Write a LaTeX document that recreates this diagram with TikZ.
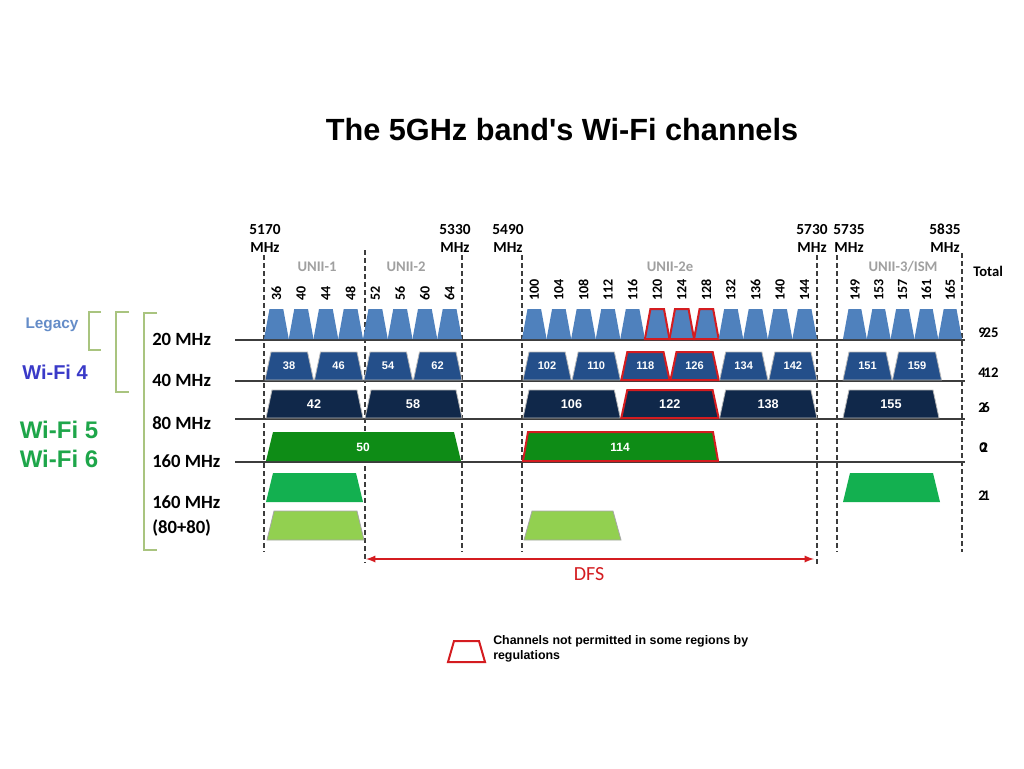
\documentclass[tikz,border=0pt]{standalone}
\usepackage{fontspec}
\setmainfont{Liberation Sans}
\newfontfamily\calib{Carlito}
\usepackage{tikz}
\usetikzlibrary{arrows}

\definecolor{ch20}{RGB}{79,129,189}
\definecolor{ch40}{RGB}{36,79,138}
\definecolor{ch80}{RGB}{16,40,74}
\definecolor{ch160}{RGB}{14,140,22}
\definecolor{chA}{RGB}{19,176,80}
\definecolor{chB}{RGB}{146,208,80}
\definecolor{regred}{RGB}{212,28,32}
\definecolor{gridgray}{RGB}{60,60,60}
\definecolor{uniigray}{RGB}{160,160,160}
\definecolor{brk}{RGB}{169,196,127}
\definecolor{legacyblue}{RGB}{100,140,200}
\definecolor{wifiblue}{RGB}{58,58,200}
\definecolor{wifigreen}{RGB}{30,166,74}

% one channel: [style]{left}{right}{top}{bottom}{inset}
\newcommand{\chan}[6][]{\path[#1] (#2,#5) -- (#2+#6,#4) -- (#3-#6,#4) -- (#3,#5) -- cycle;}

\tikzset{
  b20/.style={fill=ch20},
  b40/.style={fill=ch40, draw=gray!55, line width=0.6pt},
  b80/.style={fill=ch80, draw=gray!55, line width=0.6pt},
  b160/.style={fill=ch160},
  bA/.style={fill=chA},
  bB/.style={fill=chB, draw=gray!70, line width=0.6pt},
  restricted/.style={draw=regred, line width=1.5pt},
  r20/.style={b20,restricted},
  r40/.style={b40,restricted},
  r80/.style={b80,restricted},
  r160/.style={b160,restricted},
  chnum/.style={font=\calib\bfseries\fontsize{10.5}{12}\selectfont, rotate=90, anchor=west, inner sep=0pt},
  lab40/.style={text=white, font=\bfseries\fontsize{8.3}{10}\selectfont, inner sep=0pt},
  lab80/.style={text=white, font=\bfseries\fontsize{9.5}{11}\selectfont, inner sep=0pt},
  lab160/.style={text=white, font=\bfseries\fontsize{9}{11}\selectfont, inner sep=0pt},
  freq/.style={font=\calib\bfseries\fontsize{11.5}{13.5}\selectfont, align=center, inner sep=0pt},
  unii/.style={font=\calib\bfseries\fontsize{11}{13}\selectfont, text=uniigray, inner sep=0pt},
  total/.style={font=\calib\bfseries\fontsize{11}{13}\selectfont, anchor=west, inner sep=0pt},
  rowlab/.style={font=\calib\bfseries\fontsize{14}{18.75}\selectfont, anchor=west, align=left, inner sep=0pt},
  rowline/.style={draw=gridgray, line width=1.1pt},
  gridline/.style={draw=gridgray, line width=1.3pt, dash pattern=on 3.5pt off 2.5pt},
  bracket/.style={draw=brk, line width=2.2pt},
  dfs/.style={draw=regred, line width=1.4pt, latex-latex},
}

\begin{document}
\begin{tikzpicture}[x=0.75pt, y=-0.75pt]
\fill[white] (0,0) rectangle (1024,768);
\useasboundingbox (0,0) rectangle (1024,768);

% title
\node[font=\bfseries\fontsize{23}{27}\selectfont] (title) at (562,130) {The 5GHz band\textquotesingle s Wi-Fi channels};

% band edges
\node[freq] (f5170) at (265,238) {5170\\MHz};
\node[freq] (f5330) at (455,238) {5330\\MHz};
\node[freq] (f5490) at (508,238) {5490\\MHz};
\node[freq] (f5730) at (812,238) {5730\\MHz};
\node[freq] (f5735) at (849,238) {5735\\MHz};
\node[freq] (f5835) at (945,238) {5835\\MHz};

\node[unii] (unii1) at (317,267) {UNII-1};
\node[unii] (unii2) at (406,267) {UNII-2};
\node[unii] (unii2e) at (670,267) {UNII-2e};
\node[unii] (unii3) at (903,267) {UNII-3/ISM};
\node[total] (total) at (973,271) {Total};

% grid
\foreach \x/\a/\b in {264/255/552, 365/250/563, 462/255/552, 522/255/552, 817/255/565, 837/255/552, 962/253/552}
  \draw[gridline] (\x,\a) -- (\x,\b);
\foreach \y in {340,381,419,462} \draw[rowline] (235,\y) -- (965,\y);

% 20 MHz
\foreach \c [count=\k from 0] in {36,40,...,64} {
  \pgfmathsetmacro\xl{264+24.75*\k}
  \chan[b20]{\xl}{\xl+24.75}{309}{339}{5.5}
  \node[chnum] (n\c) at (\xl+12.4,301) {\c};
}
\foreach \c/\s [count=\k from 0] in {100/b20,104/b20,108/b20,112/b20,116/b20,120/r20,124/r20,128/r20,132/b20,136/b20,140/b20,144/b20} {
  \pgfmathsetmacro\xl{522+24.58*\k}
  \chan[\s]{\xl}{\xl+24.58}{309}{339}{5.5}
  \node[chnum] (n\c) at (\xl+12.3,301) {\c};
}
\foreach \c [count=\k from 0] in {149,153,157,161,165} {
  \pgfmathsetmacro\xl{843+23.8*\k}
  \chan[b20]{\xl}{\xl+23.8}{309}{339}{5.5}
  \node[chnum] (n\c) at (\xl+12,301) {\c};
}

% 40 MHz
\foreach \c [count=\k from 0] in {38,46,54,62} {
  \pgfmathsetmacro\xl{264+49.5*\k}
  \chan[b40]{\xl+1}{\xl+49.5}{352}{380}{6}
  \node[lab40] (w\c) at (\xl+25,366) {\c};
}
\foreach \c/\s [count=\k from 0] in {102/b40,110/b40,118/r40,126/r40,134/b40,142/b40} {
  \pgfmathsetmacro\xl{522+49.17*\k}
  \chan[\s]{\xl+1}{\xl+49.17}{352}{380}{6}
  \node[lab40] (w\c) at (\xl+25,366) {\c};
}
\foreach \c [count=\k from 0] in {151,159} {
  \pgfmathsetmacro\xl{843+49.5*\k}
  \chan[b40]{\xl}{\xl+49}{352}{380}{6}
  \node[lab40] (w\c) at (\xl+24.5,366) {\c};
}

% 80 MHz
\foreach \c [count=\k from 0] in {42,58} {
  \pgfmathsetmacro\xl{264+99*\k}
  \chan[b80]{\xl+2}{\xl+99}{390}{418}{6}
  \node[lab80] (v\c) at (\xl+50,404) {\c};
}
\foreach \c/\s [count=\k from 0] in {106/b80,122/r80,138/b80} {
  \pgfmathsetmacro\xl{522+98.3*\k}
  \chan[\s]{\xl+1}{\xl+98.3}{390}{418}{6}
  \node[lab80] (v\c) at (\xl+49.5,404) {\c};
}
\chan[b80]{843}{939}{390}{418}{6}
\node[lab80] (v155) at (891,404) {155};

% 160 MHz
\chan[b160]{266}{461}{432}{461}{7}
\node[lab160] (u50) at (363,447) {50};
\chan[r160]{523}{718}{432}{461}{5}
\node[lab160] (u114) at (620,447) {114};

% 160 MHz (80+80)
\chan[bA]{266}{363}{473}{502}{7}
\chan[bA]{843}{940}{473}{502}{7}
\chan[bB]{267}{364}{511}{540}{7}
\chan[bB]{524}{621}{511}{540}{8}

% row labels
\node[rowlab] (r20) at (152,339) {20 MHz};
\node[rowlab] (r40) at (152,380) {40 MHz};
\node[rowlab] (r80) at (152,423) {80 MHz};
\node[rowlab] (r160) at (152,461) {160 MHz};
\node[rowlab] (r8080) at (152,516) {160 MHz\\(80+80)};

% totals
\node[total] (t20) at (978,333) {9\kern-1.5pt 25};
\node[total] (t40) at (978,373) {4\kern-1.5pt 12};
\node[total] (t80) at (978,408) {2\kern-2.5pt 6};
\node[total] (t160) at (979,448) {0\kern-4.5pt 2};
\node[total] (t8080) at (978,496) {2\kern-2.5pt 1};

% standards
\draw[bracket] (101,312) -- (89,312) -- (89,350) -- (101,350);
\draw[bracket] (129,312) -- (116,312) -- (116,392) -- (129,392);
\draw[bracket] (157,313) -- (144,313) -- (144,550) -- (157,550);
\node[font=\bfseries\fontsize{11.5}{14}\selectfont, text=legacyblue] (legacy) at (52,325) {Legacy};
\node[font=\bfseries\fontsize{15}{18}\selectfont, text=wifiblue] (wifi4) at (55,372) {Wi-Fi 4};
\node[font=\bfseries\fontsize{18}{22}\selectfont, text=wifigreen] (wifi5) at (59,430) {Wi-Fi 5};
\node[font=\bfseries\fontsize{18}{22}\selectfont, text=wifigreen] (wifi6) at (59,459) {Wi-Fi 6};

% DFS
\coordinate (dfsL) at (366,559);
\coordinate (dfsR) at (814,559);
\draw[dfs] (dfsL) -- (dfsR);
\node[font=\calib\fontsize{15}{18}\selectfont, text=regred] (dfstxt) at (589,574) {DFS};

% legend
\chan[draw=regred, line width=1.5pt, fill=white]{448}{485}{641}{662}{6}
\node[font=\bfseries\fontsize{9.3}{11.25}\selectfont, anchor=west, align=left, inner sep=0pt] (legtxt) at (493,648.5) {Channels not permitted in some regions by\\regulations};
\end{tikzpicture}
\end{document}
